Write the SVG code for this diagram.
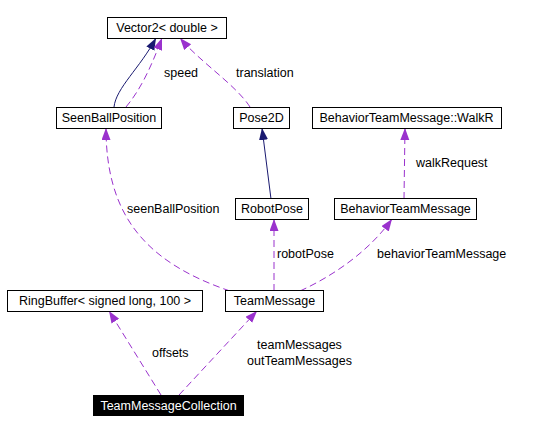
<svg xmlns="http://www.w3.org/2000/svg" width="548" height="433" viewBox="0 0 548 433">
<style>
.box{fill:#fff;stroke:#000;stroke-width:1}
.t{font-family:"Liberation Sans",Arial,sans-serif;font-size:12.5px;fill:#000;text-anchor:middle}
.lbl{font-family:"Liberation Sans",Arial,sans-serif;font-size:12.5px;fill:#000}
.u{fill:none;stroke:#9a32cd;stroke-width:1;stroke-dasharray:7,4}
.i{fill:none;stroke:#191970;stroke-width:1}
</style>
<defs>
<marker id="ap" markerUnits="userSpaceOnUse" markerWidth="13" markerHeight="10" refX="12" refY="4.5" orient="auto" viewBox="0 0 13 10">
<path d="M0,0 L12,4.5 L0,9 z" fill="#9a32cd"/>
</marker>
<marker id="an" markerUnits="userSpaceOnUse" markerWidth="13" markerHeight="10" refX="12" refY="4.5" orient="auto" viewBox="0 0 13 10">
<path d="M0,0 L12,4.5 L0,9 z" fill="#191970"/>
</marker>
</defs>
<rect width="548" height="433" fill="#fff"/>
<g id="connectors">
<path class="i" d="M114,107 C116,88 140,68 156,38" marker-end="url(#an)"/>
<path class="u" d="M126,107 C140,90 150,70 162,38" marker-end="url(#ap)"/>
<path class="u" d="M250,107 C236,85 200,62 180,38" marker-end="url(#ap)"/>
<path class="i" d="M271,199 L262,128" marker-end="url(#an)"/>
<path class="u" d="M404,199 L405,128" marker-end="url(#ap)"/>
<path class="u" d="M230,291 C145,262 106,215 106,128" marker-end="url(#ap)"/>
<path class="u" d="M274,291 L274,219" marker-end="url(#ap)"/>
<path class="u" d="M300,291 C335,275 370,250 392,219" marker-end="url(#ap)"/>
<path class="u" d="M161,395 L109,311" marker-end="url(#ap)"/>
<path class="u" d="M179,395 L257,311" marker-end="url(#ap)"/>
<text class="lbl" x="164" y="77">speed</text>
<text class="lbl" x="236" y="77">translation</text>
<text class="lbl" x="416" y="167">walkRequest</text>
<text class="lbl" x="127" y="213">seenBallPosition</text>
<text class="lbl" x="277" y="258">robotPose</text>
<text class="lbl" x="377" y="258">behaviorTeamMessage</text>
<text class="lbl" x="152" y="357">offsets</text>
<text class="t" x="299.5" y="349">teamMessages</text>
<text class="t" x="299.5" y="365">outTeamMessages</text>
</g>
<g id="Vector2"><rect class="box" x="107.5" y="17.5" width="119" height="21"/><text class="t" x="167" y="32">Vector2&lt; double &gt;</text></g>
<g id="SeenBallPosition"><rect class="box" x="56.5" y="107.5" width="105" height="21"/><text class="t" x="109" y="122">SeenBallPosition</text></g>
<g id="Pose2D"><rect class="box" x="233.5" y="107.5" width="56" height="21"/><text class="t" x="261.5" y="122">Pose2D</text></g>
<g id="WalkR"><rect class="box" x="312.5" y="107.5" width="189" height="21"/><text class="t" x="406.5" y="122">BehaviorTeamMessage::WalkR</text></g>
<g id="RobotPose"><rect class="box" x="235.5" y="198.5" width="73" height="21"/><text class="t" x="272" y="213">RobotPose</text></g>
<g id="BehaviorTeamMessage"><rect class="box" x="334.5" y="198.5" width="142" height="21"/><text class="t" x="405.5" y="213">BehaviorTeamMessage</text></g>
<g id="RingBuffer"><rect class="box" x="7.5" y="290.5" width="195" height="21"/><text class="t" x="105" y="305">RingBuffer&lt; signed long, 100 &gt;</text></g>
<g id="TeamMessage"><rect class="box" x="225.5" y="290.5" width="98" height="21"/><text class="t" x="274.5" y="305">TeamMessage</text></g>
<g id="TeamMessageCollection"><rect x="93" y="395" width="151" height="21" fill="#000"/><text class="t" x="168.5" y="410" style="fill:#fff">TeamMessageCollection</text></g>
</svg>
